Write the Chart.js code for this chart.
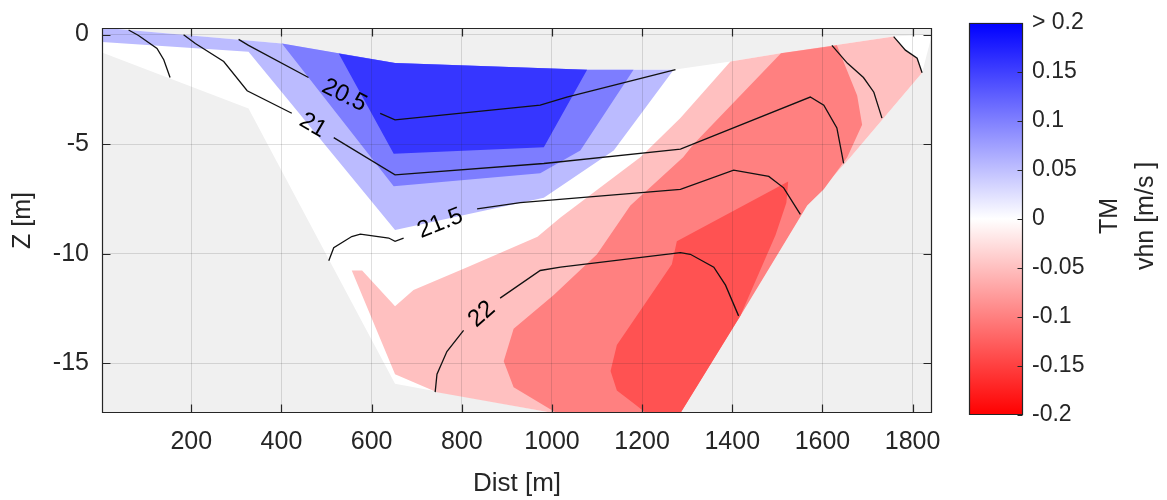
<!DOCTYPE html>
<html>
<head>
<meta charset="utf-8">
<title>TM vhn section</title>
<script src="https://cdn.jsdelivr.net/npm/chart.js@4.4.1/dist/chart.umd.min.js"></script>
<style>
  body { margin: 0; background: #fff; }
  #wrap { position: relative; width: 1167px; height: 500px; }
  #section { position: absolute; left: 0; top: 0; }
  #colorbar { position: absolute; left: 960px; top: 0; }
</style>
</head>
<body>
<div id="wrap">
  <canvas id="section" width="960" height="500"></canvas>
  <canvas id="colorbar" width="207" height="500"></canvas>
</div>
<script>
// axis ranges of the section [m]
const distRange = [2, 1843];
const depthRange = [-17.26, 0.3];
const distStep = 200;
const depthStep = 5;

// colour bar range [m/s]
const vhnRange = [-0.2, 0.2];
const vhnStep = 0.05;

// wetted outline of the transect, [dist, z]
const sectionOutline = [
  [0, 0.32], [401, -0.41], [652, -1.30], [1078, -1.60], [1270, -1.60], [1396, -1.23],
  [1514, -0.83], [1758, -0.09], [1843, 0.0], [1821, -1.74], [1662, -5.59], [1566, -7.80],
  [1418, -12.82], [1263, -18.0], [1198, -18.0], [652, -15.93], [327, -3.37], [0, -0.80]
];

// filled vhn bands, each one painted over the previous, [dist, z]
const vhnPos005 = [
  [0, 0.32], [401, -0.41], [652, -1.30], [1078, -1.60], [1270, -1.60], [1137, -5.29],
  [982, -7.44], [652, -8.91], [327, -0.78], [0, -0.34]
];
const vhnPos010 = [
  [401, -0.41], [652, -1.30], [1078, -1.60], [1181, -1.60], [1063, -5.29], [974, -6.33], [649, -6.92]
];
const vhnPos015 = [
  [527, -0.86], [652, -1.30], [1078, -1.60], [982, -5.14], [649, -5.44]
];
const vhnNeg000 = [
  [1396, -1.23], [1514, -0.83], [1758, -0.09], [1784, -0.71], [1810, -1.08], [1821, -1.74],
  [1662, -5.59], [1566, -7.80], [1418, -12.82], [1263, -18.0], [1204, -18.0], [745, -16.31],
  [652, -15.49], [556, -10.76], [579, -10.76], [652, -12.39], [693, -11.65], [812, -10.61],
  [968, -9.22], [1019, -8.34], [1196, -5.59], [1285, -3.81]
];
const vhnNeg005 = [
  [1508, -0.85], [1632, -0.49], [1677, -2.78], [1688, -4.11], [1655, -5.59], [1603, -7.06],
  [1566, -7.80], [1418, -12.82], [1263, -18.0], [1070, -18.0], [915, -16.08], [893, -14.90],
  [915, -13.42], [1004, -11.88], [1100, -10.02], [1174, -7.80], [1291, -5.59], [1314, -5.00]
];
const vhnNeg010 = [
  [1524, -6.70], [1520, -7.67], [1496, -9.14], [1418, -12.82], [1263, -18.0], [1255, -18.0],
  [1181, -16.82], [1144, -16.23], [1130, -15.34], [1144, -14.16], [1266, -10.47], [1277, -9.43]
];
const bandColours = ['#bbbbff', '#7d7dff', '#3636ff', '#ffc0c0', '#ff8080', '#ff5252'];

// temperature isotherms, split where the inline label goes
const iso205 = [
  [[305, -0.22], [327, -0.49], [460, -1.96]],
  [[619, -3.59], [652, -3.89], [974, -3.22], [1033, -2.85], [1274, -1.60]]
];
const iso21 = [
  [[183, -0.01], [209, -0.41], [272, -1.23], [324, -2.56], [423, -3.59]],
  [[516, -4.70], [652, -6.40], [982, -5.88], [1285, -5.22], [1573, -2.85], [1603, -3.22], [1632, -4.26], [1647, -5.88]]
];
const iso215 = [
  [[505, -10.32], [516, -9.72], [556, -9.21], [575, -9.10], [638, -9.28], [652, -9.43], [671, -9.28]],
  [[834, -7.95], [930, -7.66], [1285, -7.06], [1403, -6.18], [1481, -6.47], [1514, -6.99], [1551, -8.20]]
];
const iso22 = [
  [[741, -16.31], [745, -15.49], [767, -14.46], [804, -13.49]],
  [[885, -12.02], [974, -10.76], [1019, -10.61], [1285, -9.95], [1307, -10.02], [1359, -10.61], [1385, -11.43], [1414, -12.83]]
];
const isoLabels = ['20.5', '21', '21.5', '22'];
const isoUnlabelled = [
  [[61, 0.21], [83, -0.04], [124, -0.63], [139, -1.15], [153, -1.96]],
  [[1621, -0.49], [1655, -1.30], [1691, -1.96], [1714, -2.63], [1732, -3.81]],
  [[1758, -0.09], [1784, -0.71], [1810, -1.08], [1821, -1.74]]
];

const axisColour = '#262626';
const fontFamily = '"Liberation Sans", Arial, Helvetica, sans-serif';
Chart.defaults.font.family = fontFamily;
Chart.defaults.color = axisColour;

const toPoints = arr => arr.map(([x, z]) => ({x: x, y: z}));

// closed polygon filled through the filler plugin
function bandSet(poly, colour, order) {
  return {
    data: toPoints(poly),
    showLine: true,
    fill: 'shape',
    backgroundColor: colour,
    borderColor: 'transparent',
    borderWidth: 0,
    pointRadius: 0,
    order: order
  };
}

function isoSet(line) {
  return {
    data: toPoints(line),
    showLine: true,
    fill: false,
    borderColor: '#111',
    borderWidth: 1.3,
    pointRadius: 0,
    order: 0
  };
}

// colormap red - white - blue, used by the colour bar
function vhnColour(v) {
  const f = Math.min(Math.abs(v) / vhnRange[1], 1);
  const c = Math.round(255 * (1 - f));
  return v >= 0 ? `rgb(${c},${c},255)` : `rgb(255,${c},${c})`;
}

const labelled = [iso205, iso21, iso215, iso22];

const datasets = [];
datasets.push(bandSet(sectionOutline, '#ffffff', 20));
[vhnPos005, vhnPos010, vhnPos015, vhnNeg000, vhnNeg005, vhnNeg010].forEach((poly, i) => {
  datasets.push(bandSet(poly, bandColours[i], 19 - i));
});
labelled.forEach(iso => iso.forEach(part => datasets.push(isoSet(part))));
isoUnlabelled.forEach(part => datasets.push(isoSet(part)));

// grey axes background, box and inward tick marks
const sectionFrame = {
  id: 'sectionFrame',
  beforeDraw(chart) {
    const {ctx, chartArea: a} = chart;
    ctx.save();
    ctx.fillStyle = '#f0f0f0';
    ctx.fillRect(a.left, a.top, a.right - a.left, a.bottom - a.top);
    ctx.restore();
  },
  afterDraw(chart) {
    const {ctx, chartArea: a, scales: {x, y}} = chart;
    const l = Math.round(a.left) + 0.5, r = Math.round(a.right) - 0.5;
    const t = Math.round(a.top) + 0.5, b = Math.round(a.bottom) - 0.5;
    ctx.save();
    ctx.strokeStyle = axisColour;
    ctx.lineWidth = 1.2;
    ctx.beginPath();
    x.ticks.forEach(tk => {
      const px = Math.round(x.getPixelForValue(tk.value)) + 0.5;
      ctx.moveTo(px, b); ctx.lineTo(px, b - 8);
      ctx.moveTo(px, t); ctx.lineTo(px, t + 8);
    });
    y.ticks.forEach(tk => {
      const py = Math.round(y.getPixelForValue(tk.value)) + 0.5;
      ctx.moveTo(l, py); ctx.lineTo(l + 8, py);
      ctx.moveTo(r, py); ctx.lineTo(r - 8, py);
    });
    ctx.rect(l, t, r - l, b - t);
    ctx.stroke();
    ctx.restore();
  }
};

// isotherm values written in the gap of each line
const isoText = {
  id: 'isoText',
  afterDatasetsDraw(chart) {
    const {ctx, scales: {x, y}} = chart;
    ctx.save();
    ctx.font = '24px ' + fontFamily;
    ctx.fillStyle = '#000';
    ctx.textAlign = 'center';
    ctx.textBaseline = 'middle';
    labelled.forEach((iso, i) => {
      const a = iso[0][iso[0].length - 1];
      const b = iso[1][0];
      const x0 = x.getPixelForValue(a[0]), y0 = y.getPixelForValue(a[1]);
      const x1 = x.getPixelForValue(b[0]), y1 = y.getPixelForValue(b[1]);
      let ang = Math.atan2(y1 - y0, x1 - x0);
      if (ang > Math.PI / 2) ang -= Math.PI;
      if (ang < -Math.PI / 2) ang += Math.PI;
      ctx.save();
      ctx.translate((x0 + x1) / 2, (y0 + y1) / 2);
      ctx.rotate(ang);
      ctx.fillText(isoLabels[i], 0, 0);
      ctx.restore();
    });
    ctx.restore();
  }
};

new Chart(document.getElementById('section'), {
  type: 'scatter',
  data: { datasets: datasets },
  options: {
    responsive: false,
    animation: false,
    events: [],
    devicePixelRatio: 1,
    layout: { padding: { left: 0, right: 28, top: 17, bottom: 0 } },
    plugins: {
      legend: { display: false },
      tooltip: { enabled: false }
    },
    scales: {
      x: {
        type: 'linear',
        min: distRange[0],
        max: distRange[1],
        grid: { color: 'rgba(38,38,38,0.15)', drawTicks: false, z: 1 },
        border: { display: false },
        ticks: {
          stepSize: distStep, includeBounds: false, padding: 14, maxRotation: 0, autoSkip: false,
          font: { size: 25 },
          callback: v => String(v)
        },
        title: { display: true, text: 'Dist [m]', font: { size: 26 }, padding: { top: 0, bottom: 1 } },
        afterFit: s => { s.height = 87; }
      },
      y: {
        type: 'linear',
        min: depthRange[0],
        max: depthRange[1],
        grid: { color: 'rgba(38,38,38,0.15)', drawTicks: false, z: 1 },
        border: { display: false },
        ticks: { stepSize: depthStep, includeBounds: false, padding: 13, font: { size: 25 }, callback: v => String(v) },
        title: { display: true, text: 'Z [m]', font: { size: 25 }, padding: { top: 8, bottom: 0 } },
        afterFit: s => { s.width = 102; }
      }
    }
  },
  plugins: [sectionFrame, isoText]
});

// colour bar: box, inward ticks and the two-line title
const colourbarFrame = {
  id: 'colourbarFrame',
  afterDraw(chart) {
    const {ctx, chartArea: a, scales: {y}} = chart;
    const l = Math.round(a.left) + 0.5, r = Math.round(a.right) - 0.5;
    const t = Math.round(a.top) + 0.5, b = Math.round(a.bottom) - 0.5;
    ctx.save();
    ctx.strokeStyle = axisColour;
    ctx.lineWidth = 1.2;
    ctx.beginPath();
    y.ticks.forEach(tk => {
      const py = Math.round(y.getPixelForValue(tk.value)) + 0.5;
      ctx.moveTo(r, py); ctx.lineTo(r - 5, py);
    });
    ctx.rect(l, t, r - l, b - t);
    ctx.stroke();

    ctx.fillStyle = axisColour;
    ctx.font = '25px ' + fontFamily;
    ctx.textAlign = 'center';
    ctx.textBaseline = 'middle';
    const cy = (a.top + a.bottom) / 2 - 3;
    ['TM', 'vhn [m/s ]'].forEach((txt, i) => {
      ctx.save();
      ctx.translate(a.right + 87 + i * 36, cy);
      ctx.rotate(-Math.PI / 2);
      ctx.fillText(txt, 0, 0);
      ctx.restore();
    });
    ctx.restore();
  }
};

new Chart(document.getElementById('colorbar'), {
  type: 'bar',
  data: {
    labels: ['vhn'],
    datasets: [{
      data: [vhnRange],
      backgroundColor: c => {
        const chart = c.chart;
        const ys = chart.scales.y;
        if (!ys || !chart.chartArea) return vhnColour(0);
        const g = chart.ctx.createLinearGradient(0, ys.getPixelForValue(vhnRange[0]), 0, ys.getPixelForValue(vhnRange[1]));
        g.addColorStop(0, vhnColour(vhnRange[0]));
        g.addColorStop(0.5, vhnColour(0));
        g.addColorStop(1, vhnColour(vhnRange[1]));
        return g;
      },
      borderWidth: 0,
      barPercentage: 1,
      categoryPercentage: 1
    }]
  },
  options: {
    responsive: false,
    animation: false,
    events: [],
    devicePixelRatio: 1,
    layout: { padding: { left: 9, right: 0, top: 17, bottom: 85 } },
    plugins: {
      legend: { display: false },
      tooltip: { enabled: false }
    },
    scales: {
      x: { display: false },
      y: {
        position: 'right',
        min: vhnRange[0],
        max: vhnRange[1],
        grid: { display: false, drawTicks: false },
        border: { display: false },
        ticks: {
          stepSize: vhnStep,
          padding: 9,
          font: { size: 23 },
          callback: v => {
            const r = Math.round(v * 100) / 100;
            return r >= vhnRange[1] ? '> ' + r : String(r);
          }
        },
        afterFit: s => { s.width = 144; }
      }
    }
  },
  plugins: [colourbarFrame]
});
</script>
</body>
</html>
